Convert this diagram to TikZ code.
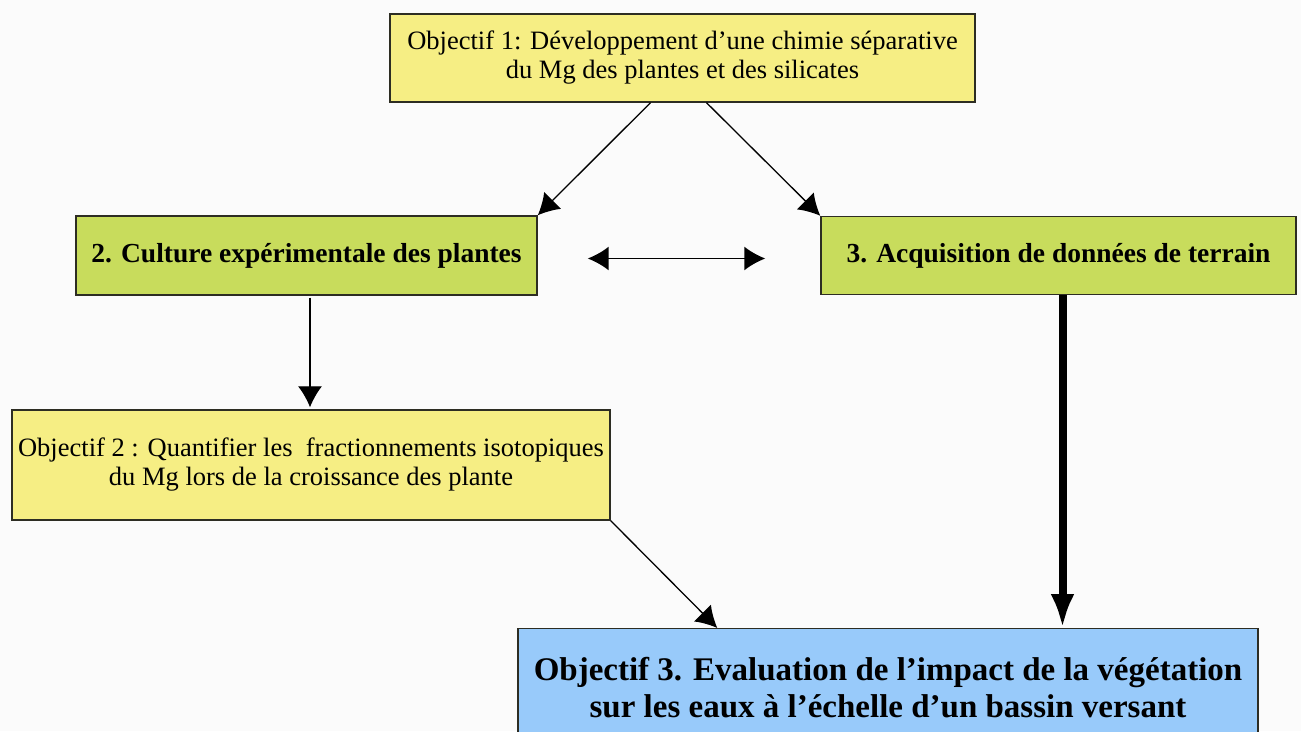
\documentclass[tikz,border=0pt]{standalone}
\usepackage{fontspec}
\setmainfont{Liberation Serif}
\usepackage{tikz}
\definecolor{paleyellow}{RGB}{246,238,132}
\definecolor{leafgreen}{RGB}{200,220,92}
\definecolor{skyblue}{RGB}{152,202,250}
\definecolor{boxline}{RGB}{45,45,35}
\usetikzlibrary{arrows.meta,calc}

\begin{document}
\begin{tikzpicture}[x=1pt,y=-1pt,
    objbox/.style={draw=boxline, line width=1.4pt, fill=paleyellow, align=center,
        inner sep=0pt, font=\fontsize{26.5}{29}\selectfont},
    stagebox/.style={draw=boxline, line width=1.4pt, fill=leafgreen, align=center,
        inner sep=0pt, font=\bfseries\fontsize{27.5}{30}\selectfont},
    goalbox/.style={draw=boxline, line width=1.4pt, fill=skyblue, align=center,
        inner sep=0pt, font=\bfseries\fontsize{33}{37}\selectfont},
    link/.style={-{Latex[length=21pt,width=24pt]}, line width=1.3pt},
    biglink/.style={-{Latex[length=34pt,width=24pt]}, line width=8pt}]
    % page frame
    \useasboundingbox[fill=white!97!gray] (0,0) rectangle (1301,731);

    % Boxes
    \node[objbox, minimum width=585pt, minimum height=88pt] (obj1) at (682.5,58)
        {Objectif 1: Développement d'une chimie séparative\\du Mg des plantes et des silicates};
    \node[stagebox, minimum width=461pt, minimum height=79pt] (cult) at (306.5,255.5)
        {2. Culture expérimentale des plantes};
    \node[stagebox, minimum width=475pt, minimum height=78pt] (acq) at (1058.5,255.5)
        {3. Acquisition de données de terrain};
    \node[objbox, minimum width=598pt, minimum height=110pt] (obj2) at (311,465)
        {Objectif 2 : Quantifier les~ fractionnements isotopiques\\du Mg lors de la croissance des plante};
    \node[goalbox, minimum width=740pt, minimum height=118pt, anchor=north] (obj3) at (888,628)
        {Objectif 3. Evaluation de l'impact de la végétation\\sur les eaux à l'échelle d'un bassin versant};

    % Connectors
    \draw[link] ($(obj1.south)+(-32,0)$) -- (cult.north east);
    \draw[link] ($(obj1.south)+(24,0)$) -- (acq.north west);
    \draw[{Latex[length=21pt,width=24pt]}-{Latex[length=21pt,width=24pt]}, line width=1.8pt]
        ($(cult.east)+(50,3)$) -- ($(acq.west)+(-55,3)$);
    \draw[link] ($(cult.south)+(3.5,2)$) -- ($(obj2.north)+(-1,-2)$);
    \draw[biglink] ($(acq.south)+(4,0)$) -- ($(obj3.north)+(174.5,0)$);
    \draw[link] (obj2.south east) -- ($(obj3.north west)+(200,0)$);
\end{tikzpicture}
\end{document}
